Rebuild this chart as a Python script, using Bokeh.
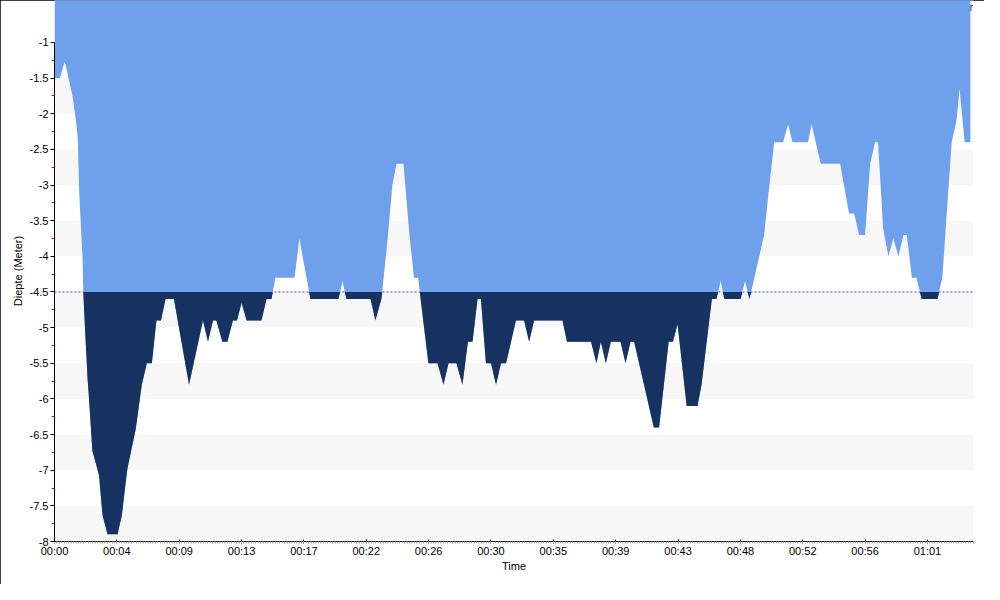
import numpy as np
from bokeh.plotting import figure
from bokeh.models import FixedTicker, BoxAnnotation, Span, Label
from bokeh.embed import file_html
from bokeh.resources import INLINE

# ---- data -------------------------------------------------------------
time_s = [0, 23, 42, 50, 58, 67, 75, 83, 92, 97, 100, 103, 110, 117, 120, 128, 138, 142,
          151, 158, 172, 186, 200, 221, 263, 281, 297, 304, 339, 360, 364, 385, 406, 425,
          444, 463, 498, 561, 619, 640, 661, 675, 700, 721, 744, 761, 780, 801, 863, 884,
          905, 921, 1001, 1021, 1067, 1184, 1201, 1217, 1318, 1338, 1363, 1388, 1409, 1426,
          1455, 1480, 1499, 1516, 1559, 1597, 1622, 1643, 1676, 1701, 1724, 1743, 1764, 1778,
          1799, 1820, 1841, 1862, 1883, 1924, 1958, 1979, 2000, 2118, 2137, 2237, 2260, 2278,
          2299, 2320, 2360, 2381, 2402, 2417, 2499, 2521, 2561, 2579, 2598, 2636, 2681, 2698,
          2741, 2760, 2778, 2793, 2861, 2879, 2898, 2959, 2973, 3001, 3038, 3059, 3077, 3142,
          3157, 3195, 3276, 3313, 3334, 3355, 3380, 3401, 3422, 3434, 3455, 3477, 3498, 3519,
          3540, 3554, 3575, 3594, 3616, 3682, 3702, 3741, 3761, 3774, 3795, 3819]
depth_m = [-1.5, -1.5, -1.27, -1.37, -1.5, -1.63, -1.75, -1.94, -2.17, -2.35, -2.7, -3.1, -3.57,
           -4.04, -4.5, -5.07, -5.72, -5.9, -6.37, -6.73, -6.9, -7.08, -7.63, -7.9, -7.9, -7.63,
           -7.17, -6.98, -6.42, -5.9, -5.8, -5.5, -5.5, -4.9, -4.9, -4.6, -4.6, -5.8, -4.9, -5.2,
           -4.9, -4.9, -5.2, -5.2, -4.9, -4.9, -4.65, -4.9, -4.9, -4.6, -4.6, -4.3, -4.3, -3.75,
           -4.6, -4.6, -4.35, -4.6, -4.6, -4.9, -4.6, -3.8, -3.0, -2.7, -2.7, -3.7, -4.3, -4.3,
           -5.5, -5.5, -5.8, -5.5, -5.5, -5.8, -5.2, -5.2, -4.6, -4.6, -5.5, -5.5, -5.8, -5.5,
           -5.5, -4.9, -4.9, -5.2, -4.9, -4.9, -5.2, -5.2, -5.5, -5.2, -5.5, -5.2, -5.2, -5.5,
           -5.2, -5.2, -6.4, -6.4, -5.2, -5.2, -4.95, -6.1, -6.1, -5.8, -4.6, -4.6, -4.35, -4.6,
           -4.6, -4.35, -4.6, -3.7, -3.25, -2.4, -2.4, -2.15, -2.4, -2.4, -2.15, -2.7, -2.7, -3.4,
           -3.4, -3.7, -3.7, -2.7, -2.4, -2.4, -3.6, -4.0, -3.75, -4.0, -3.7, -3.7, -4.3, -4.3,
           -4.6, -4.6, -4.3, -2.4, -2.1, -1.65, -2.4, -2.4]

threshold_m = -4.5

x_ticks = [0, 260, 520, 780, 1040, 1300, 1560, 1820, 2080, 2340, 2600, 2860, 3120, 3380, 3640]
x_tick_labels = ["00:00", "00:04", "00:09", "00:13", "00:17", "00:22", "00:26", "00:30",
                 "00:35", "00:39", "00:43", "00:48", "00:52", "00:56", "01:01"]
y_ticks = [-1, -1.5, -2, -2.5, -3, -3.5, -4, -4.5, -5, -5.5, -6, -6.5, -7, -7.5, -8]
y_tick_labels = ["-1", "-1.5", "-2", "-2.5", "-3", "-3.5", "-4", "-4.5", "-5", "-5.5",
                 "-6", "-6.5", "-7", "-7.5", "-8"]
x_title = "Time"
y_title = "Diepte (Meter)"
legend_text = "Meter"

# ---- derived: insert threshold crossings for the dark fill ---------------
t = np.array(time_s, dtype=float)
d = np.array(depth_m, dtype=float)
xs, ys = [t[0]], [d[0]]
for i in range(1, len(t)):
    a, b = d[i - 1] - threshold_m, d[i] - threshold_m
    if a * b < 0:
        f = a / (a - b)
        xs.append(t[i - 1] + f * (t[i] - t[i - 1]))
        ys.append(threshold_m)
    xs.append(t[i])
    ys.append(d[i])
xs = np.array(xs)
ys = np.array(ys)
dark = np.minimum(ys, threshold_m)

FONT = "Liberation Sans"

p = figure(width=984, height=584, x_range=(0, 3832), y_range=(-8, -0.412),
           output_backend="svg", toolbar_location=None,
           min_border_left=54, min_border_right=11, min_border_top=0, min_border_bottom=43)
p.styles = {"outline": "1px solid black", "outline-offset": "-1px"}
p.outline_line_color = None
p.xgrid.visible = False
p.ygrid.visible = False
p.background_fill_color = "white"
p.border_fill_color = "white"

# alternating bands
for k in range(len(y_ticks) - 1):
    lo, hi = y_ticks[k + 1], y_ticks[k]
    if k % 2 == 1:
        p.add_layout(BoxAnnotation(bottom=lo, top=hi, fill_color="#F7F7F7", fill_alpha=1.0,
                                   line_alpha=0, level="underlay"))

p.add_layout(Span(location=threshold_m, dimension="width", line_color="#3C3CFF",
                  line_dash="2 2", line_width=1, level="underlay"))

p.add_layout(Label(x=3831, y=-0.51, text=legend_text, text_align="right",
                   text_baseline="middle", text_font=FONT, text_font_size="11px",
                   text_color="#222222", level="underlay"))

p.varea(x=t, y1=d, y2=0, fill_color="#6FA0EC", fill_alpha=1.0)
p.varea(x=xs, y1=dark, y2=threshold_m, fill_color="#163260", fill_alpha=1.0)

# x axis
xa = p.xaxis[0]
xa.ticker = FixedTicker(ticks=x_ticks, minor_ticks=list(range(0, 3840, 10)))
xa.major_label_overrides = {k: v for k, v in zip(x_ticks, x_tick_labels)}
xa.axis_label = x_title
xa.axis_label_standoff = 0
xa.axis_label_text_font = FONT
xa.axis_label_text_font_size = "11px"
xa.axis_label_text_font_style = "normal"
xa.axis_label_text_color = "black"
xa.major_label_text_font = FONT
xa.major_label_text_font_size = "11px"
xa.major_label_text_color = "black"
xa.major_label_standoff = 1
xa.major_tick_in = 2
xa.major_tick_out = 2
xa.minor_tick_in = 0
xa.minor_tick_out = 2
xa.minor_tick_line_color = "#B0B0B0"
xa.axis_line_color = "black"

# y axis
ya = p.yaxis[0]
ya.ticker = FixedTicker(ticks=y_ticks, minor_ticks=[v - 0.25 for v in y_ticks[:-1]])
ya.major_label_overrides = {k: v for k, v in zip(y_ticks, y_tick_labels)}
ya.bounds = (-8, -1)
ya.axis_label = y_title
ya.axis_label_standoff = 3
ya.axis_label_text_font = FONT
ya.axis_label_text_font_size = "11px"
ya.axis_label_text_font_style = "normal"
ya.axis_label_text_color = "black"
ya.major_label_text_font = FONT
ya.major_label_text_font_size = "11px"
ya.major_label_text_color = "black"
ya.major_label_standoff = 2
ya.major_tick_in = 0
ya.major_tick_out = 4
ya.minor_tick_in = 0
ya.minor_tick_out = 3
ya.minor_tick_line_color = "red"
ya.axis_line_color = "black"

open("out.html", "w").write(file_html(p, INLINE))
